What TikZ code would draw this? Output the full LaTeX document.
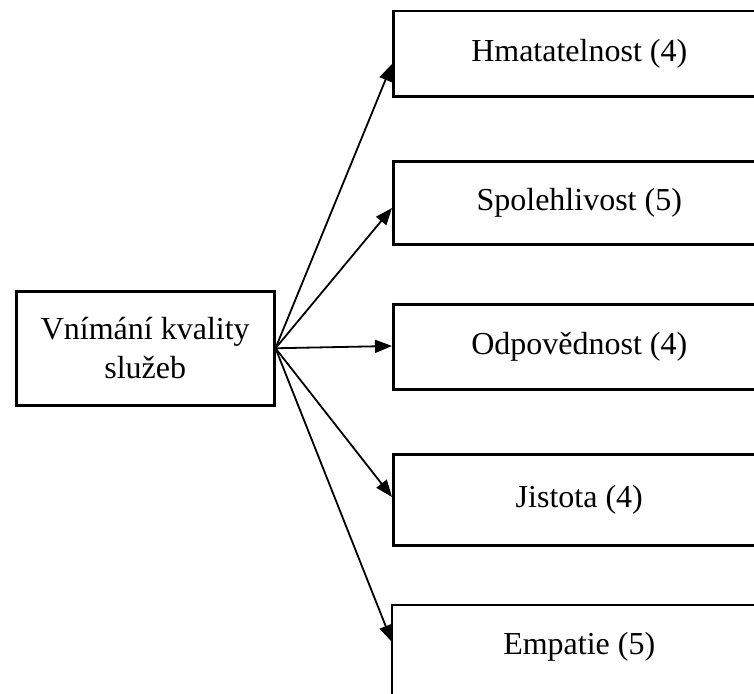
\documentclass[tikz,border=0pt]{standalone}
\usepackage{fontspec}
\setmainfont{Liberation Serif}
\usetikzlibrary{arrows.meta}
\begin{document}
\begin{tikzpicture}[x=1pt,y=-1pt,
  box/.style={draw=black,line width=2.5pt,fill=white,inner sep=0pt,
    font=\fontsize{32}{39}\selectfont,align=center},
  dimbox/.style={box,anchor=north west,minimum width=372pt},
  edge/.style={line width=2.5pt},
  arr/.style={line width=1.8pt,-{Triangle[length=17pt,width=13pt]}}]
  \clip (0,0) rectangle (754,693);
  \fill[white] (0,0) rectangle (754,693);

  % central concept
  \node[box,anchor=north west,minimum width=258pt,minimum height=114pt]
    (L) at (15,290) {Vnímání kvality\\služeb};

  % dimensions
  \node[dimbox,minimum height=85pt] (b1) at (392,10)  {Hmatatelnost (4)};
  \node[dimbox,minimum height=83pt] (b2) at (392,160) {Spolehlivost (5)};
  \node[dimbox,minimum height=85pt] (b3) at (392,303) {Odpovědnost (4)};
  \node[dimbox,minimum height=91pt] (b4) at (392,453) {Jistota (4)};
  % last box runs past the lower edge: only its top and left sides show
  \node[dimbox,draw=none,minimum height=82pt] (b5) at (392,605) {Empatie (5)};
  \draw[edge] (b5.north east) -- (b5.north west) -- ([yshift=-30pt]b5.south west);

  % arrow targets on the left edges
  \coordinate (t1) at (392,64);
  \coordinate (t2) at (392,208);
  \coordinate (t3) at (392,346);
  \coordinate (t4) at (392,497);
  \coordinate (t5) at (392,642);

  \foreach \i in {1,...,5}
    \draw[arr] (L.east) -- (t\i);
\end{tikzpicture}
\end{document}
